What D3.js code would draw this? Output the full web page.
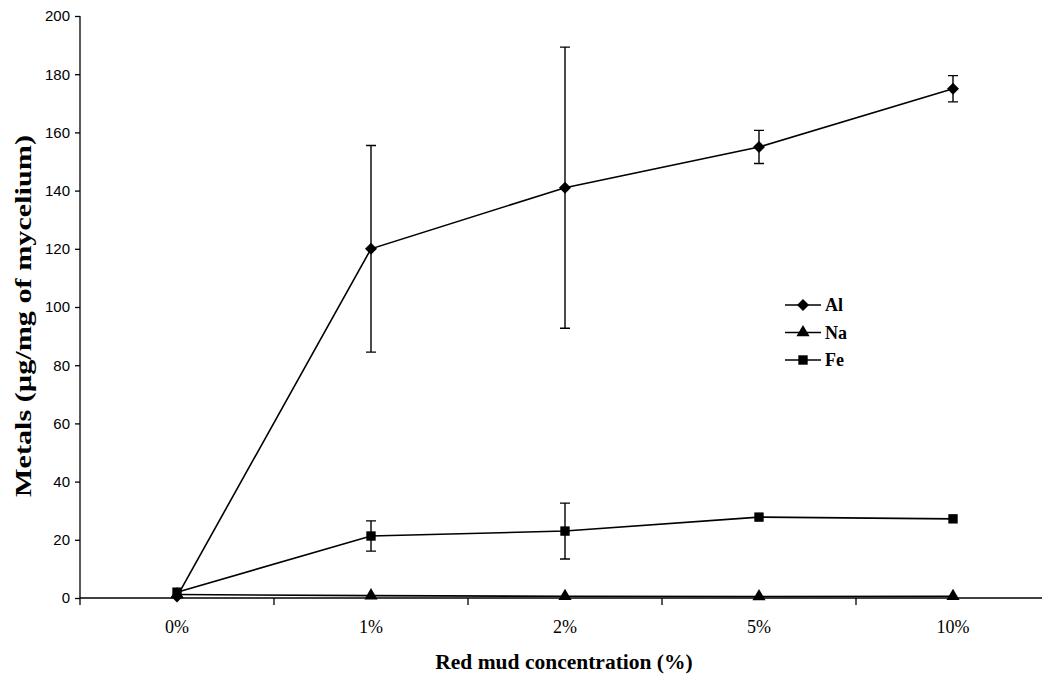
<!DOCTYPE html>
<html>
<head>
<meta charset="utf-8">
<script src="https://cdn.jsdelivr.net/npm/d3@7"></script>
<style>
  body { margin: 0; background: #fff; }
  svg { display: block; }
</style>
</head>
<body>
<div id="chart"></div>
<script>
// Dados
const CATEGORIES = ['0%', '1%', '2%', '5%', '10%']
const AL = [0.5, 120, 141, 155, 175]
const AL_ERR = [0, 35.5, 48.3, 5.7, 4.5]
const NA = [1.2, 0.8, 0.6, 0.5, 0.6]
const FE = [2, 21.3, 23, 27.8, 27.2]
const FE_ERR = [0, 5.2, 9.6, 0, 0]
const Y_TICKS = [0, 20, 40, 60, 80, 100, 120, 140, 160, 180, 200]

const WIDTH = 1042
const HEIGHT = 676
const MARGIN = { top: 16, bottom: 78, left: 80, right: -8 }
const SERIF = 'Liberation Serif, Times New Roman, serif'

const svg = d3.select('#chart')
  .append('svg')
  .attr('width', WIDTH)
  .attr('height', HEIGHT)

const x = d3.scaleBand()
  .domain(CATEGORIES)
  .range([MARGIN.left, WIDTH - MARGIN.right])

const y = d3.scaleLinear()
  .domain([0, 200])
  .range([HEIGHT - MARGIN.bottom, MARGIN.top])

const cx = (i) => x(CATEGORIES[i]) + x.bandwidth() / 2

// Losango "quadrado rodado" como no Excel
const diamond = {
  draw (ctx, size) {
    const r = Math.sqrt(size / 2)
    ctx.moveTo(0, -r)
    ctx.lineTo(r, 0)
    ctx.lineTo(0, r)
    ctx.lineTo(-r, 0)
    ctx.closePath()
  }
}

// Eixo y
const yAxis = svg.append('g')
  .attr('transform', `translate(${MARGIN.left},0)`)
  .call(d3.axisLeft(y).tickValues(Y_TICKS).tickSize(5).tickPadding(5))
yAxis.selectAll('text')
  .style('font-family', 'Liberation Sans, Arial, sans-serif')
  .style('font-size', '15px')
  .attr('fill', '#000')
yAxis.selectAll('line, path').attr('stroke', '#000').attr('stroke-width', 1.3)
yAxis.select('.domain').attr('d', `M0,${y(0)}V${y(200)}`)

// Eixo x (ticks entre categorias)
const xg = svg.append('g')
  .attr('transform', `translate(0,${y(0)})`)
xg.append('line')
  .attr('x1', MARGIN.left).attr('x2', WIDTH)
  .attr('stroke', '#000').attr('stroke-width', 1.3)
xg.selectAll('.sep')
  .data(CATEGORIES)
  .join('line')
  .attr('x1', d => x(d)).attr('x2', d => x(d))
  .attr('y1', 0).attr('y2', 7)
  .attr('stroke', '#000').attr('stroke-width', 1.3)
xg.selectAll('.lab')
  .data(CATEGORIES)
  .join('text')
  .attr('x', d => x(d) + x.bandwidth() / 2)
  .attr('y', 35)
  .attr('text-anchor', 'middle')
  .style('font-family', SERIF)
  .style('font-size', '18px')
  .text(d => d)

// Títulos dos eixos (o do eixo y vem esticado no original)
svg.append('text')
  .attr('text-anchor', 'middle')
  .attr('transform', 'translate(31, 316) rotate(-90)')
  .attr('textLength', 362)
  .attr('lengthAdjust', 'spacingAndGlyphs')
  .style('font-family', SERIF)
  .style('font-size', '24px')
  .style('font-weight', 'bold')
  .text('Metals (µg/mg of mycelium)')

svg.append('text')
  .attr('text-anchor', 'middle')
  .attr('x', 564)
  .attr('y', 669)
  .style('font-family', SERIF)
  .style('font-size', '21.5px')
  .style('font-weight', 'bold')
  .text('Red mud concentration (%)')

const line = d3.line()
  .x((d, i) => cx(i))
  .y(d => y(d))

const SERIES = [
  { name: 'Al', values: AL, err: AL_ERR, symbol: diamond, size: 72 },
  { name: 'Na', values: NA, err: null, symbol: d3.symbolTriangle, size: 75 },
  { name: 'Fe', values: FE, err: FE_ERR, symbol: d3.symbolSquare, size: 88 }
]

SERIES.forEach(s => {
  const g = svg.append('g')

  if (s.err) {
    const bars = s.values.map((v, i) => ({ i, v, e: s.err[i] })).filter(d => d.e > 0)
    g.selectAll('.err')
      .data(bars)
      .join('path')
      .attr('d', d => {
        const px = cx(d.i)
        const top = y(d.v + d.e)
        const bot = y(d.v - d.e)
        return `M${px},${top}V${bot}M${px - 5},${top}H${px + 5}M${px - 5},${bot}H${px + 5}`
      })
      .attr('fill', 'none')
      .attr('stroke', '#000')
      .attr('stroke-width', 1.4)
  }

  g.append('path')
    .attr('d', line(s.values))
    .attr('fill', 'none')
    .attr('stroke', '#000')
    .attr('stroke-width', 1.6)

  g.selectAll('.mk')
    .data(s.values)
    .join('path')
    .attr('transform', (d, i) => `translate(${cx(i)},${y(d)})`)
    .attr('d', d3.symbol().type(s.symbol).size(s.size))
    .attr('fill', '#000')
})

// Legenda
const legend = svg.append('g')
  .attr('transform', 'translate(785, 305)')
SERIES.forEach((s, k) => {
  const row = legend.append('g').attr('transform', `translate(0, ${k * 27.5})`)
  row.append('line')
    .attr('x1', 0).attr('x2', 36)
    .attr('stroke', '#000').attr('stroke-width', 1.6)
  row.append('path')
    .attr('transform', 'translate(18,0)')
    .attr('d', d3.symbol().type(s.symbol).size(s.size))
    .attr('fill', '#000')
  row.append('text')
    .attr('x', 40)
    .attr('y', 6)
    .style('font-family', SERIF)
    .style('font-size', '18px')
    .style('font-weight', 'bold')
    .text(s.name)
})
</script>
</body>
</html>
